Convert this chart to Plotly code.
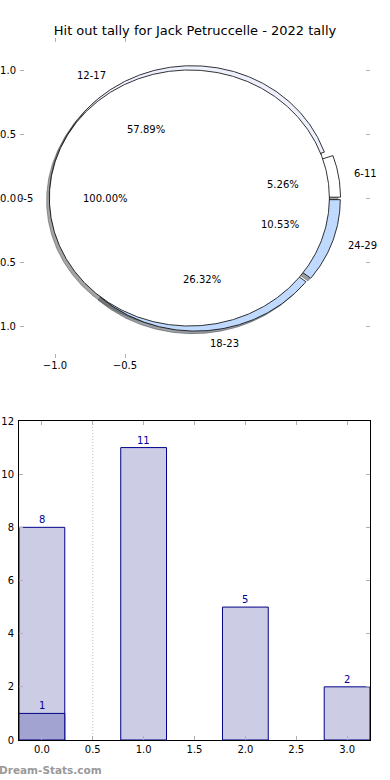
import numpy as np
import plotly.graph_objects as go

# ---------------- data ----------------
title_text = "Hit out tally for Jack Petruccelle - 2022 tally"

# outer pie (counter-clockwise from 3 o'clock)
pie_labels = ["6-11", "12-17", "18-23", "24-29"]
pie_values = [1, 11, 5, 2]
pie_colors = ["#ffffff", "#eef1fd", "#bfd9ff", "#bfd9ff"]

# inner pie
inner_labels = ["0-5"]
inner_values = [1]
inner_colors = ["#ffffff"]

# bar chart
bar_x = [0, 1, 2, 3]
bar_values = [8, 11, 5, 2]
overlay_x = [0]
overlay_values = [1]

pie_xticks = [-1.0, -0.5]
pie_yticks = [-1.0, -0.5, 0.0, 0.5, 1.0]
bar_xticks = [0.0, 0.5, 1.0, 1.5, 2.0, 2.5, 3.0]
bar_yticks = [0, 2, 4, 6, 8, 10, 12]

FONT = "DejaVu Sans"
W, H = 390, 780

fig = go.Figure()


def wedge_path(cx, cy, r, t1, t2):
    full = abs((t2 - t1) - 360) < 1e-9
    n = max(8, int(abs(t2 - t1) * 2))
    th = np.radians(np.linspace(t1, t2, n))
    xs = cx + r * np.cos(th)
    ys = cy + r * np.sin(th)
    if full:
        return list(xs), list(ys)
    return [cx] + list(xs) + [cx], [cy] + list(ys) + [cy]


def shadow_color(hexc):
    h = hexc.lstrip("#")
    r, g, b = (int(h[i:i + 2], 16) for i in (0, 2, 4))
    return "rgba(%d,%d,%d,0.5)" % (0.3 * r, 0.3 * g, 0.3 * b)


def build_pie(values, labels, colors, explode, radius=1.0):
    total = float(sum(values))
    out = []
    t = 0.0
    for v, lab, col in zip(values, labels, colors):
        frac = v / total
        t1, t2 = t * 360, (t + frac) * 360
        mid = np.radians((t1 + t2) / 2)
        cx = explode * np.cos(mid)
        cy = explode * np.sin(mid)
        out.append(dict(cx=cx, cy=cy, t1=t1, t2=t2, mid=mid, frac=frac,
                        label=lab, color=col, r=radius))
        t += frac
    return out


outer = build_pie(pie_values, pie_labels, pie_colors, 0.04)
inner = build_pie(inner_values, inner_labels, inner_colors, 0.04)
allw = outer + inner

# shadows (below everything)
for w in allw:
    xs, ys = wedge_path(w["cx"] - 0.02, w["cy"] - 0.02, w["r"], w["t1"], w["t2"])
    sc = shadow_color(w["color"])
    fig.add_trace(go.Scatter(x=xs, y=ys, mode="lines", fill="toself",
                             fillcolor=sc, line=dict(color=sc, width=1),
                             hoverinfo="skip", showlegend=False,
                             xaxis="x", yaxis="y"))
# wedges
for w in allw:
    xs, ys = wedge_path(w["cx"], w["cy"], w["r"], w["t1"], w["t2"])
    fig.add_trace(go.Scatter(x=xs, y=ys, mode="lines", fill="toself",
                             fillcolor=w["color"], line=dict(color="black", width=0.8),
                             hoverinfo="skip", showlegend=False,
                             xaxis="x", yaxis="y"))

annotations = []
for w in allw:
    lx = w["cx"] + 1.1 * w["r"] * np.cos(w["mid"])
    ly = w["cy"] + 1.1 * w["r"] * np.sin(w["mid"])
    annotations.append(dict(x=lx, y=ly, xref="x", yref="y", text=w["label"],
                            showarrow=False, xanchor="left" if lx > 0 else "right",
                            yanchor="middle", font=dict(size=10, color="black", family=FONT)))
    px = w["cx"] + 0.6 * w["r"] * np.cos(w["mid"])
    py = w["cy"] + 0.6 * w["r"] * np.sin(w["mid"])
    annotations.append(dict(x=px, y=py, xref="x", yref="y", text="%.2f%%" % (w["frac"] * 100),
                            showarrow=False, xanchor="center", yanchor="middle",
                            font=dict(size=10, color="black", family=FONT)))

# ---------------- bars ----------------
fig.add_trace(go.Bar(x=bar_x, y=bar_values, width=0.45,
                     marker=dict(color="#ccccE5", line=dict(color="#000088", width=1)),
                     hoverinfo="skip", showlegend=False, xaxis="x2", yaxis="y2"))
fig.add_trace(go.Bar(x=overlay_x, y=overlay_values, width=0.45,
                     marker=dict(color="#a3a3d1", line=dict(color="#000088", width=1)),
                     hoverinfo="skip", showlegend=False, xaxis="x2", yaxis="y2"))

for xv, yv in list(zip(bar_x, bar_values)) + list(zip(overlay_x, overlay_values)):
    annotations.append(dict(x=xv, y=yv, xref="x2", yref="y2", text=str(yv),
                            showarrow=False, xanchor="center", yanchor="bottom",
                            font=dict(size=10, color="#000099", family=FONT)))

annotations.append(dict(x=0, y=1 - 770 / H, xref="paper", yref="paper",
                        text="<b>Dream-Stats.com</b>", showarrow=False,
                        xanchor="left", yanchor="middle", xshift=-3,
                        font=dict(size=10.5, color="#999999", family=FONT)))

shapes = [dict(type="line", xref="x2", yref="y2 domain", x0=0.5, x1=0.5, y0=0, y1=1,
               line=dict(color="#c0c0c0", width=1, dash="1px,2px"), layer="below")]

tickfont = dict(size=10, color="black", family=FONT)

fig.update_layout(
    width=W, height=H,
    margin=dict(l=0, r=0, t=0, b=0, autoexpand=False),
    paper_bgcolor="white", plot_bgcolor="white",
    barmode="overlay",
    title=dict(text=title_text, x=0.5, xref="paper", xanchor="center",
               yref="paper", y=1 - 30 / H, yanchor="middle", automargin=False,
               font=dict(size=13, color="black", family=FONT)),
    xaxis=dict(domain=[20 / W, 370 / W], range=[-1.25, 1.25], anchor="y",
               tickvals=pie_xticks, tickformat=".1f", ticks="inside", ticklen=4,
               tickcolor="#b0b0b0", showline=False, mirror="ticks", showgrid=False,
               zeroline=False, tickfont=tickfont, automargin=False),
    yaxis=dict(domain=[1 - 358 / H, 1 - 38 / H], range=[-1.25, 1.25], anchor="x",
               tickvals=pie_yticks, tickformat=".1f", ticks="inside", ticklen=4,
               tickcolor="#b0b0b0", showline=False, mirror="ticks", showgrid=False,
               zeroline=False, tickfont=tickfont, automargin=False,
               ticklabelstandoff=3),
    xaxis2=dict(domain=[19 / W, 370 / W], range=[-0.225, 3.225], anchor="y2",
                tickvals=bar_xticks, tickformat=".1f", ticks="inside", ticklen=4,
                tickcolor="#b0b0b0", showline=True, linecolor="black", linewidth=1,
                mirror="ticks", showgrid=False, zeroline=False, tickfont=tickfont,
                automargin=False),
    yaxis2=dict(domain=[1 - 740 / H, 1 - 421 / H], range=[0, 12], anchor="x2",
                tickvals=bar_yticks, ticks="inside", ticklen=4,
                tickcolor="#b0b0b0", showline=True, linecolor="black", linewidth=1,
                mirror="ticks", showgrid=False, zeroline=False, tickfont=tickfont,
                automargin=False, ticklabelstandoff=2),
    annotations=annotations,
    shapes=shapes,
)

fig.write_html("out.html",
               config={"displayModeBar": False},
               post_script="document.body.style.margin='0';document.body.style.overflow='hidden';")
